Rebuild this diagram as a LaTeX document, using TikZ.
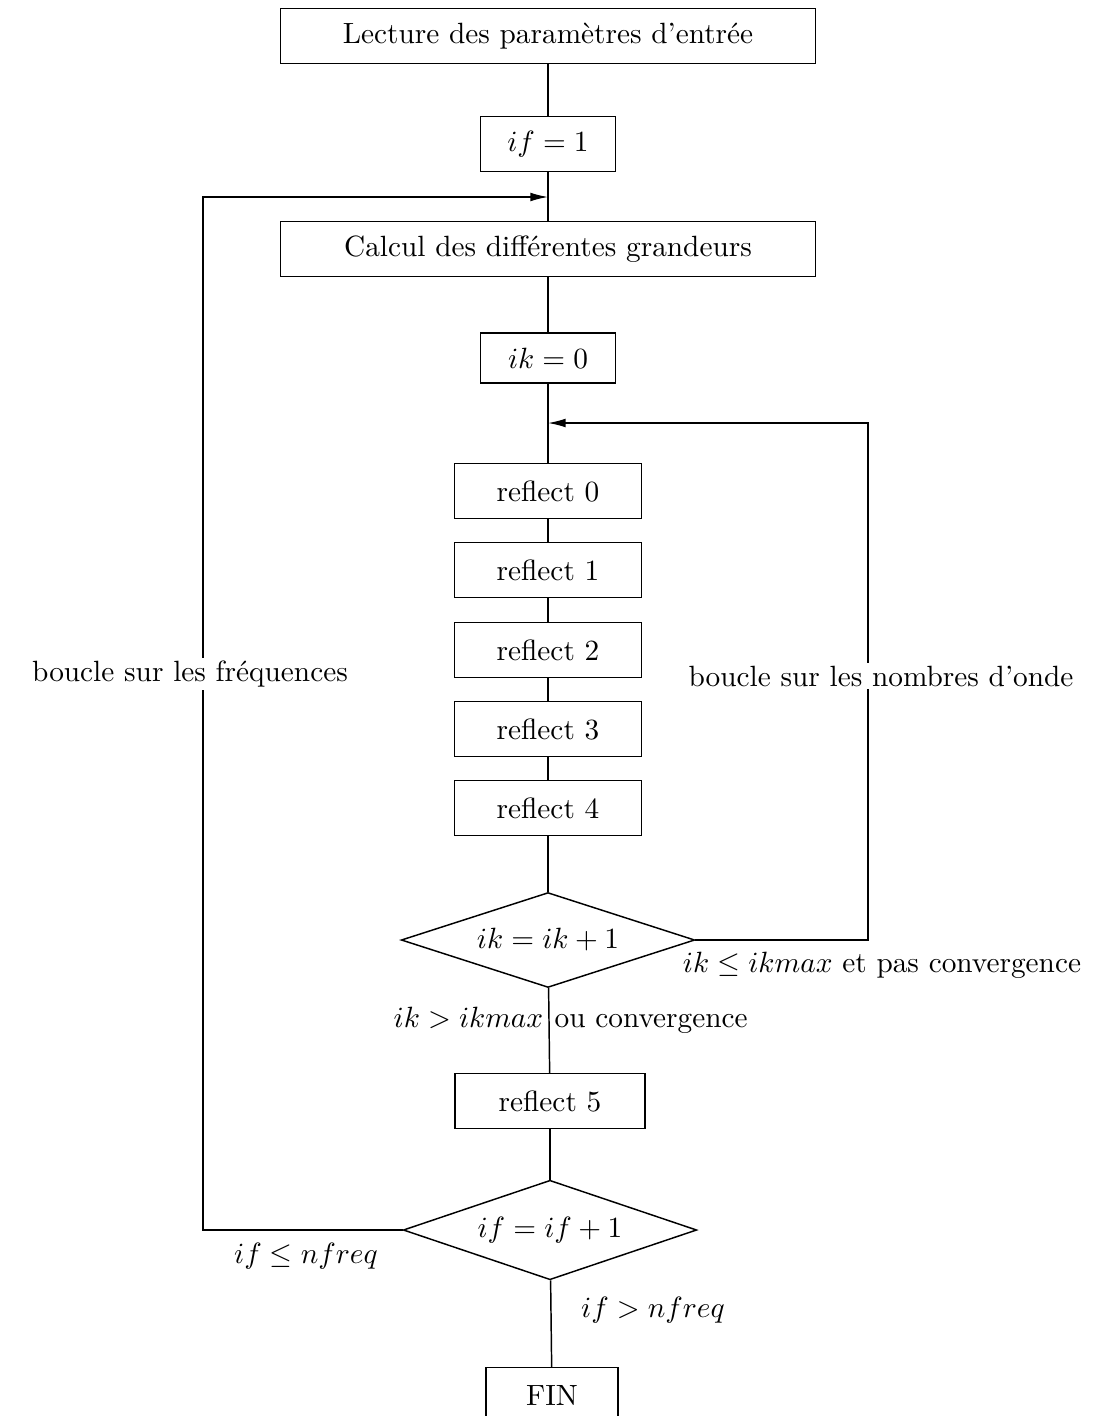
\documentclass[tikz,border=0pt]{standalone}
\usepackage{amsmath}
\usetikzlibrary{shapes.geometric,arrows.meta}
\begin{document}
\begin{tikzpicture}[x=0.012cm,y=-0.012cm,line width=0.5pt,
	box_node/.style={rectangle,draw,minimum height=0.66cm,inner sep=2pt},
	test_node/.style={diamond,draw,aspect=1.97,minimum width=3.52cm,inner sep=0pt},
	label_node/.style={inner sep=1pt},
	back_arrow/.style={-{Latex[length=6pt,width=3pt]}}]
		
		\useasboundingbox (0,0) rectangle (1097,1416);
		
		\node[box_node,minimum width=6.42cm] (lect) at (548,36) {Lecture des param\`etres d'entr\'ee};
		\node[box_node,minimum width=1.62cm] (if1) at (548,144) {$if=1$};
		\node[box_node,minimum width=6.42cm] (calc) at (548,249) {Calcul des diff\'erentes grandeurs};
		\node[box_node,minimum width=1.62cm,minimum height=0.60cm] (ik0) at (548,358) {$ik=0$};
		\node[box_node,minimum width=2.24cm] (r0) at (548,491) {reflect 0};
		\node[box_node,minimum width=2.24cm] (r1) at (548,570) {reflect 1};
		\node[box_node,minimum width=2.24cm] (r2) at (548,650) {reflect 2};
		\node[box_node,minimum width=2.24cm] (r3) at (548,729) {reflect 3};
		\node[box_node,minimum width=2.24cm] (r4) at (548,808) {reflect 4};
		\node[test_node] (tk) at (548,940) {$ik=ik+1$};
		\node[box_node,minimum width=2.28cm] (r5) at (550,1101) {reflect 5};
		\node[test_node] (tf) at (550,1230) {$if=if+1$};
		\node[box_node,minimum width=1.58cm] (fin) at (552,1395) {FIN};
		
		\coordinate (jf) at (548,197);
		\coordinate (jk) at (548,423);
		\coordinate (kr) at (868,940);
		\coordinate (ku) at (868,423);
		\coordinate (fl) at (203,1230);
		\coordinate (fu) at (203,197);
		
		\draw (lect) -- (if1);
		\draw (if1) -- (calc);
		\draw (calc) -- (ik0);
		\draw (ik0) -- (r0);
		\draw (r0) -- (r1);
		\draw (r1) -- (r2);
		\draw (r2) -- (r3);
		\draw (r3) -- (r4);
		\draw (r4) -- (tk);
		\draw (tk) -- (r5);
		\draw (r5) -- (tf);
		\draw (tf) -- (fin);
		
		\draw[back_arrow] (tk.east) -- (kr) -- (ku) -- (jk);
		\draw[back_arrow] (tf.west) -- (fl) -- (fu) -- (jf);
		
		\node[label_node,fill=white] (bk) at (881,676) {boucle sur les nombres d'onde};
		\node[label_node,fill=white] (bf) at (190,674) {boucle sur les fr\'equences};
		\node[label_node] (lk1) at (882,965) {$ik\leq ikmax$ et pas convergence};
		\node[label_node,anchor=base east] (lk2) at (547,1027) {$ik>ikmax$};
		\node[label_node,anchor=base west] (lk3) at (551,1027) {ou convergence};
		\node[label_node] (lf1) at (306,1256) {$if\leq nfreq$};
		\node[label_node] (lf2) at (653,1310) {$if>nfreq$};
		\end{tikzpicture}
\end{document}
